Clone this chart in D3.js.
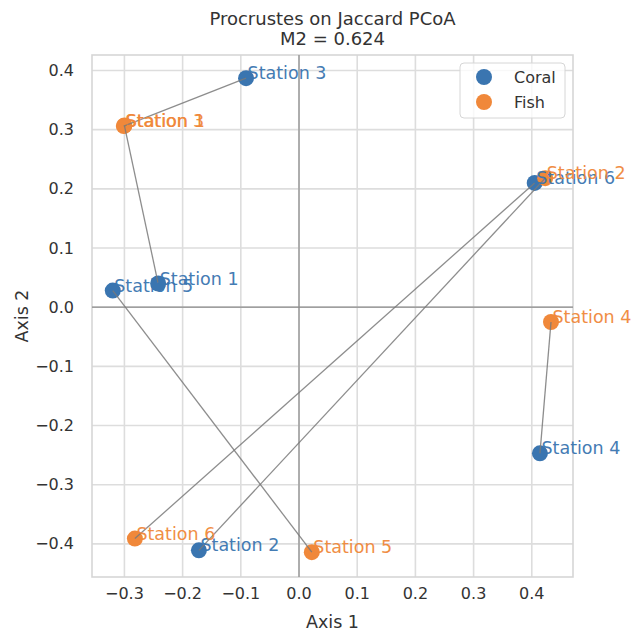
<!DOCTYPE html>
<html><head><meta charset="utf-8">
<script src="https://cdn.jsdelivr.net/npm/d3@7"></script>
<style>body{margin:0;background:#fff}svg{font-family:"DejaVu Sans",sans-serif}</style>
</head><body><svg id="c" width="633" height="632"></svg>
<script>
const stations = ["Station 1","Station 2","Station 3","Station 4","Station 5","Station 6"];
const coralX = [-0.242,-0.172,-0.091,0.414,-0.320,0.405];
const coralY = [0.040,-0.411,0.387,-0.247,0.028,0.210];
const fishX = [-0.300,0.423,-0.301,0.433,0.022,-0.282];
const fishY = [0.307,0.218,0.306,-0.025,-0.414,-0.391];
const xTicks = [-0.3,-0.2,-0.1,0.0,0.1,0.2,0.3,0.4];
const yTicks = [-0.4,-0.3,-0.2,-0.1,0.0,0.1,0.2,0.3,0.4];
const groups = ["Coral","Fish"];
const colors = ["#3a75b0","#f0883a"];

const svg = d3.select("#c");
const L=92,R=573,T=55,B=577;
const x = d3.scaleLinear().domain([-0.3557,0.4708]).range([L,R]);
const y = d3.scaleLinear().domain([-0.456,0.4262]).range([B,T]);
const fmt = v => (v<0?"\u2212":"")+Math.abs(v).toFixed(1);

const g = svg.append("g");
// grid
g.selectAll(".gx").data(xTicks).join("line").attr("x1",d=>x(d)).attr("x2",d=>x(d)).attr("y1",T).attr("y2",B).attr("stroke","#dddddd").attr("stroke-width",1.6);
g.selectAll(".gy").data(yTicks).join("line").attr("y1",d=>y(d)).attr("y2",d=>y(d)).attr("x1",L).attr("x2",R).attr("stroke","#dddddd").attr("stroke-width",1.6);
g.append("rect").attr("x",L).attr("y",T).attr("width",R-L).attr("height",B-T).attr("fill","none").attr("stroke","#d6d6d6").attr("stroke-width",1.6);
// zero lines
g.append("line").attr("x1",x(0)).attr("x2",x(0)).attr("y1",T).attr("y2",B).attr("stroke","#8a8a8a").attr("stroke-width",1.2);
g.append("line").attr("y1",y(0)).attr("y2",y(0)).attr("x1",L).attr("x2",R).attr("stroke","#8a8a8a").attr("stroke-width",1.2);

// tick labels
svg.selectAll(".xt").data(xTicks).join("text").attr("x",d=>x(d)).attr("y",599).attr("text-anchor","middle").attr("font-size",16).attr("fill","#333").text(fmt);
svg.selectAll(".yt").data(yTicks).join("text").attr("x",74).attr("y",d=>y(d)+5.5).attr("text-anchor","end").attr("font-size",16).attr("fill","#333").text(fmt);
svg.append("text").attr("x",(L+R)/2).attr("y",628).attr("text-anchor","middle").attr("font-size",17.5).attr("fill","#333").text("Axis 1");
svg.append("text").attr("transform",`translate(28,${(T+B)/2}) rotate(-90)`).attr("text-anchor","middle").attr("font-size",17.5).attr("fill","#333").text("Axis 2");
svg.append("text").attr("x",(L+R)/2).attr("y",25).attr("text-anchor","middle").attr("font-size",18).attr("fill","#333").text("Procrustes on Jaccard PCoA");
svg.append("text").attr("x",(L+R)/2).attr("y",45).attr("text-anchor","middle").attr("font-size",18).attr("fill","#333").text("M2 = 0.624");

// points
const sets = [[coralX,coralY],[fishX,fishY]];
sets.forEach(([xs,ys],k)=>{
  svg.append("g").selectAll("circle").data(stations).join("circle")
    .attr("cx",(d,i)=>x(xs[i])).attr("cy",(d,i)=>y(ys[i])).attr("r",8).attr("fill",colors[k]);
});
// connecting lines
svg.append("g").selectAll("line").data(stations).join("line")
  .attr("x1",(d,i)=>x(coralX[i])).attr("y1",(d,i)=>y(coralY[i]))
  .attr("x2",(d,i)=>x(fishX[i])).attr("y2",(d,i)=>y(fishY[i]))
  .attr("stroke","#7a7a7a").attr("stroke-width",1.3).attr("opacity",0.85);
// labels
sets.forEach(([xs,ys],k)=>{
  svg.append("g").selectAll("text").data(stations).join("text")
    .attr("x",(d,i)=>x(xs[i])+1.5).attr("y",(d,i)=>y(ys[i])+1)
    .attr("font-size",17.5).attr("fill",colors[k]).attr("opacity",0.95).text(d=>d);
});

// legend
const lg = svg.append("g");
lg.append("rect").attr("x",460).attr("y",63).attr("width",105).attr("height",55).attr("rx",4).attr("fill","#fff").attr("fill-opacity",0.8).attr("stroke","#d6d6d6");
groups.forEach((n,i)=>{
  lg.append("circle").attr("cx",484).attr("cy",77+i*25).attr("r",8).attr("fill",colors[i]);
  lg.append("text").attr("x",514).attr("y",82.5+i*25).attr("font-size",16).attr("fill","#333").text(n);
});
</script></body></html>
